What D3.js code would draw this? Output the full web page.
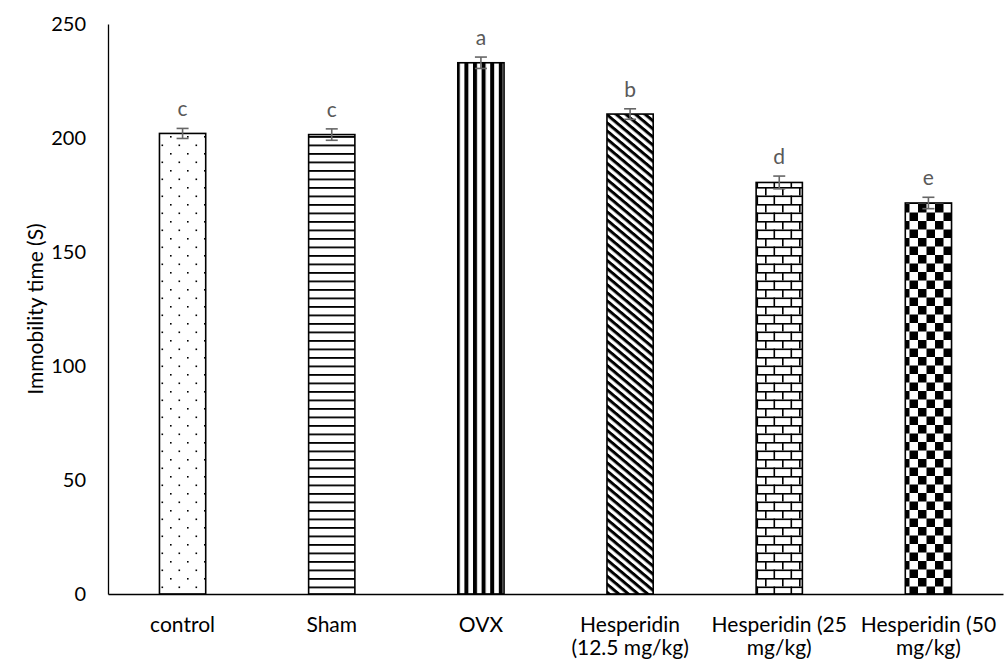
<!DOCTYPE html>
<html>
<head>
<meta charset="utf-8">
<script src="https://cdn.jsdelivr.net/npm/d3@7"></script>
<style>
  body { margin: 0; background: #fff; }
  svg text { font-family: Lato, "Open Sans", sans-serif; }
</style>
</head>
<body>
<div id="chart"></div>
<script>
// group means + SEM
const categories = ["control", "Sham", "OVX", "Hesperidin (12.5 mg/kg)", "Hesperidin (25 mg/kg)", "Hesperidin (50 mg/kg)"];
const labelLines = [["control"], ["Sham"], ["OVX"], ["Hesperidin", "(12.5 mg/kg)"], ["Hesperidin (25", "mg/kg)"], ["Hesperidin (50", "mg/kg)"]];
const means = [202, 201.5, 233, 210.5, 180.5, 171.5];
const errors = [2.2, 2.5, 2.5, 2.3, 2.8, 2.5];
const letters = ["c", "c", "a", "b", "d", "e"];
const patterns = ["dots", "hlines", "vlines", "diag", "brick", "checker"];
const yTicks = [0, 50, 100, 150, 200, 250];

var width = 1006, height = 666;
var margin = {top: 24, right: 3, bottom: 72, left: 108};

const svg = d3.select("#chart").append("svg")
    .attr("width", width)
    .attr("height", height);

// fill patterns for the bars
const defs = svg.append("defs");

var p = defs.append("pattern").attr("id", "dots").attr("patternUnits", "userSpaceOnUse")
    .attr("width", 17).attr("height", 17);
p.append("rect").attr("x", 0).attr("y", 0).attr("width", 1.6).attr("height", 1.6).attr("fill", "#000");
p.append("rect").attr("x", 8.5).attr("y", 8.5).attr("width", 1.6).attr("height", 1.6).attr("fill", "#000");

p = defs.append("pattern").attr("id", "hlines").attr("patternUnits", "userSpaceOnUse")
    .attr("width", 10).attr("height", 8.5);
p.append("rect").attr("x", 0).attr("y", 0).attr("width", 10).attr("height", 1.8).attr("fill", "#000");

p = defs.append("pattern").attr("id", "vlines").attr("patternUnits", "userSpaceOnUse")
    .attr("width", 8.6).attr("height", 10);
p.append("rect").attr("x", 0).attr("y", 0).attr("width", 4).attr("height", 10).attr("fill", "#000");

p = defs.append("pattern").attr("id", "diag").attr("patternUnits", "userSpaceOnUse")
    .attr("width", 10).attr("height", 6.2).attr("patternTransform", "rotate(40)");
p.append("rect").attr("x", 0).attr("y", 0).attr("width", 10).attr("height", 3).attr("fill", "#000");

p = defs.append("pattern").attr("id", "brick").attr("patternUnits", "userSpaceOnUse")
    .attr("width", 17).attr("height", 17);
p.append("rect").attr("x", 0).attr("y", 0).attr("width", 17).attr("height", 1.6).attr("fill", "#000");
p.append("rect").attr("x", 0).attr("y", 8.5).attr("width", 17).attr("height", 1.6).attr("fill", "#000");
p.append("rect").attr("x", 0).attr("y", 0).attr("width", 1.6).attr("height", 8.5).attr("fill", "#000");
p.append("rect").attr("x", 8.5).attr("y", 8.5).attr("width", 1.6).attr("height", 8.5).attr("fill", "#000");

p = defs.append("pattern").attr("id", "checker").attr("patternUnits", "userSpaceOnUse")
    .attr("width", 17).attr("height", 17);
p.append("rect").attr("x", 0).attr("y", 0).attr("width", 8.5).attr("height", 8.5).attr("fill", "#000");
p.append("rect").attr("x", 8.5).attr("y", 8.5).attr("width", 8.5).attr("height", 8.5).attr("fill", "#000");

// scales
const xScale = d3.scaleBand()
    .domain(categories)
    .range([margin.left, width - margin.right])
    .paddingInner(0.69)
    .paddingOuter(0.345);

const yScale = d3.scaleLinear()
    .domain([0, 250])
    .range([height - margin.bottom, margin.top]);

// bars
svg.selectAll(".bar")
    .data(categories)
    .enter()
    .append("rect")
        .attr("class", "bar")
        .attr("x", d => xScale(d))
        .attr("y", (d, i) => yScale(means[i]))
        .attr("width", xScale.bandwidth())
        .attr("height", (d, i) => yScale(0) - yScale(means[i]))
        .attr("fill", (d, i) => "url(#" + patterns[i] + ")")
        .attr("stroke", "#000")
        .attr("stroke-width", 1.6);

// error bars
const cx = d => xScale(d) + xScale.bandwidth() / 2;
const err = svg.append("g").attr("stroke", "#666").attr("stroke-width", 1.6);
categories.forEach(function(d, i) {
    let top = yScale(means[i] + errors[i]);
    let bot = yScale(means[i] - errors[i]);
    err.append("line").attr("x1", cx(d)).attr("x2", cx(d)).attr("y1", top).attr("y2", bot);
    err.append("line").attr("x1", cx(d) - 6).attr("x2", cx(d) + 6).attr("y1", top).attr("y2", top);
    err.append("line").attr("x1", cx(d) - 6).attr("x2", cx(d) + 6).attr("y1", bot).attr("y2", bot);
});

// significance letters
svg.selectAll(".letter")
    .data(categories)
    .enter()
    .append("text")
        .attr("class", "letter")
        .attr("x", d => cx(d))
        .attr("y", (d, i) => yScale(means[i] + errors[i]) - 12)
        .attr("text-anchor", "middle")
        .attr("font-size", 21)
        .attr("fill", "#595959")
        .text((d, i) => letters[i]);

// axes
const yAxis = svg.append("g")
    .attr("transform", `translate(${margin.left},0)`)
    .call(d3.axisLeft(yScale).tickValues(yTicks).tickSize(0).tickPadding(22));
yAxis.select(".domain").attr("stroke", "#000").attr("stroke-width", 1.3);
yAxis.selectAll("text").attr("font-size", 20).attr("fill", "#000")
    .attr("font-family", "Lato, sans-serif");

const xAxis = svg.append("g")
    .attr("transform", `translate(0,${yScale(0)})`)
    .call(d3.axisBottom(xScale).tickSize(0).tickFormat(""));
xAxis.select(".domain").attr("stroke", "#000").attr("stroke-width", 1.3);

// category labels, wrapped as in the original
svg.selectAll(".cat")
    .data(categories)
    .enter()
    .append("text")
        .attr("class", "cat")
        .attr("text-anchor", "middle")
        .attr("font-size", 21)
        .attr("fill", "#000")
        .each(function(d, i) {
            let t = d3.select(this);
            labelLines[i].forEach(function(line, j) {
                t.append("tspan")
                    .attr("x", cx(d))
                    .attr("y", 632 + j * 23)
                    .text(line);
            });
        });

// y axis title
svg.append("text")
    .attr("transform", "translate(43," + ((yScale(0) + yScale(250)) / 2) + ") rotate(-90)")
    .attr("text-anchor", "middle")
    .attr("font-size", 21)
    .attr("fill", "#000")
    .text("Immobility time (S)");
</script>
</body>
</html>
